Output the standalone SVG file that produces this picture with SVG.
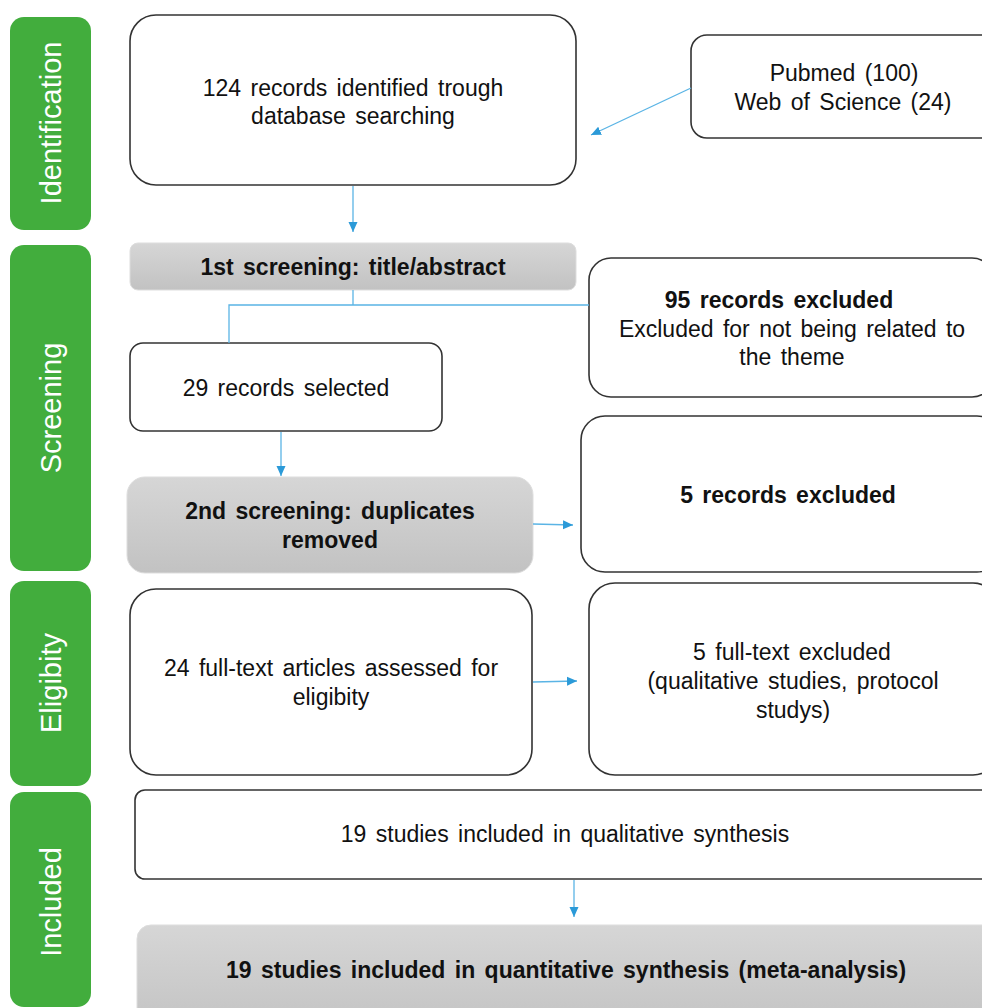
<svg xmlns="http://www.w3.org/2000/svg" width="982" height="1008" viewBox="0 0 982 1008">
<defs>
<linearGradient id="gray" x1="0" y1="0" x2="0" y2="1">
<stop offset="0" stop-color="#d6d6d6"/>
<stop offset="1" stop-color="#c2c2c2"/>
</linearGradient>
<marker id="arr" markerUnits="userSpaceOnUse" markerWidth="10" markerHeight="10" viewBox="0 0 10 10" refX="10" refY="5" orient="auto">
<path d="M0,0.5 L10,5 L0,9.5 Z" fill="#2b9ad8"/>
</marker>
<style>
.side{fill:#42ad3d}
.sl{fill:#ffffff;font-family:"Liberation Sans",Arial,sans-serif;font-size:29px;text-anchor:middle;dominant-baseline:central}
.box{fill:#ffffff;stroke:#333333;stroke-width:1.6}
.gbox{fill:url(#gray);stroke:#dddddd;stroke-width:1}
.t{fill:#111111;font-family:"Liberation Sans",Arial,sans-serif;font-size:23px;text-anchor:middle;word-spacing:3px}
.b{font-weight:bold}
.c{fill:none;stroke:#5ab4e5;stroke-width:1.3}
</style>
</defs>

<g id="lbl-identification"><rect class="side" x="10" y="17" width="81" height="213" rx="14"/><text class="sl" transform="translate(51,123) rotate(-90)">Identification</text></g>
<g id="lbl-screening"><rect class="side" x="10" y="245" width="81" height="326" rx="14"/><text class="sl" transform="translate(51,408) rotate(-90)">Screening</text></g>
<g id="lbl-eligibity"><rect class="side" x="10" y="581" width="81" height="205" rx="14"/><text class="sl" transform="translate(51,683) rotate(-90)">Eligibity</text></g>
<g id="lbl-included"><rect class="side" x="10" y="792" width="81" height="215" rx="14"/><text class="sl" transform="translate(51,902) rotate(-90)">Included</text></g>

<g id="n-identified"><rect class="box" x="130" y="15" width="446" height="170" rx="26"/><text class="t" x="353" y="96">124 records identified trough</text><text class="t" x="353" y="124">database searching</text></g>
<g id="n-sources"><rect class="box" x="691" y="35" width="310" height="103" rx="16"/><text class="t" x="844" y="81">Pubmed (100)</text><text class="t" x="843" y="110">Web of Science (24)</text></g>
<g id="n-screen1"><rect class="gbox" x="130" y="243" width="446" height="47" rx="8"/><text class="t b" x="353" y="275">1st screening: title/abstract</text></g>
<g id="n-excl95"><rect class="box" x="589" y="258" width="405" height="139" rx="22"/><text class="t b" x="779" y="308">95 records excluded</text><text class="t" x="792" y="337">Excluded for not being related to</text><text class="t" x="792" y="365">the theme</text></g>
<g id="n-selected"><rect class="box" x="130" y="343" width="312" height="88" rx="13"/><text class="t" x="286" y="396">29 records selected</text></g>
<g id="n-screen2"><rect class="gbox" x="127" y="477" width="406" height="96" rx="18"/><text class="t b" x="330" y="519">2nd screening: duplicates</text><text class="t b" x="330" y="548">removed</text></g>
<g id="n-excl5"><rect class="box" x="581" y="416" width="420" height="156" rx="24"/><text class="t b" x="788" y="503">5 records excluded</text></g>
<g id="n-fulltext"><rect class="box" x="130" y="589" width="402" height="186" rx="26"/><text class="t" x="331" y="676">24 full-text articles assessed for</text><text class="t" x="331" y="705">eligibity</text></g>
<g id="n-fullexcl"><rect class="box" x="589" y="583" width="410" height="192" rx="26"/><text class="t" x="792" y="660">5 full-text excluded</text><text class="t" x="793" y="689">(qualitative studies, protocol</text><text class="t" x="793" y="718">studys)</text></g>
<g id="n-qual"><rect class="box" x="135" y="790" width="870" height="89" rx="10"/><text class="t" x="565" y="842">19 studies included in qualitative synthesis</text></g>
<g id="n-quant"><rect class="gbox" x="137" y="925" width="870" height="110" rx="14"/><text class="t b" x="566" y="978">19 studies included in quantitative synthesis (meta-analysis)</text></g>

<g id="connectors">
<line class="c" x1="691" y1="88" x2="591" y2="135" marker-end="url(#arr)"/>
<line class="c" x1="353" y1="186" x2="353" y2="232" marker-end="url(#arr)"/>
<polyline class="c" points="353,290 353,305"/>
<polyline class="c" points="589,305 229,305 229,343"/>
<line class="c" x1="281" y1="432" x2="281" y2="476" marker-end="url(#arr)"/>
<line class="c" x1="533" y1="524" x2="573" y2="525" marker-end="url(#arr)"/>
<line class="c" x1="533" y1="682" x2="577" y2="681" marker-end="url(#arr)"/>
<line class="c" x1="574" y1="880" x2="574" y2="917" marker-end="url(#arr)"/>
</g>
</svg>
